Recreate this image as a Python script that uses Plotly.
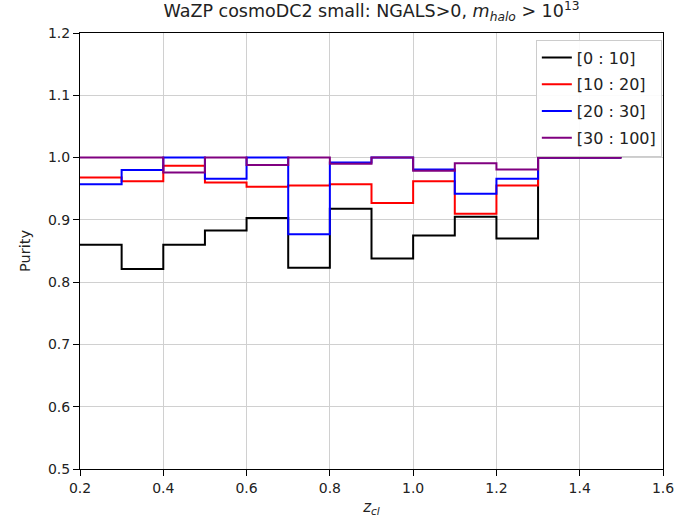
import plotly.graph_objects as go

edges = [0.2, 0.3, 0.4, 0.5, 0.6, 0.7, 0.8, 0.9, 1.0, 1.1, 1.2, 1.3, 1.4, 1.5]
labels = ["[0 : 10]", "[10 : 20]", "[20 : 30]", "[30 : 100]"]
colors = ["black", "red", "blue", "purple"]
# purity per redshift bin (0.2-0.3, ..., 1.4-1.5)
p_0_10 = [0.860, 0.821, 0.860, 0.883, 0.903, 0.823, 0.918, 0.838, 0.875, 0.905, 0.870, 1.0, 1.0]
p_10_20 = [0.968, 0.962, 0.987, 0.960, 0.953, 0.955, 0.957, 0.927, 0.962, 0.910, 0.955, 1.0, 1.0]
p_20_30 = [0.957, 0.980, 1.0, 0.966, 1.0, 0.877, 0.992, 1.0, 0.981, 0.942, 0.966, 1.0, 1.0]
p_30_100 = [1.0, 1.0, 0.976, 1.0, 0.988, 1.0, 0.990, 1.0, 0.979, 0.991, 0.981, 1.0, 1.0]
series = [p_0_10, p_10_20, p_20_30, p_30_100]

fig = go.Figure()
for i, (lab, col, vals) in enumerate(zip(labels, colors, series)):
    fig.add_trace(go.Scatter(
        x=edges, y=vals + [vals[-1]], mode="lines", name=lab,
        line=dict(color=col, width=2, shape="hv"), legendgroup=str(i),
    ))

axis_common = dict(
    showline=True, linecolor="black", linewidth=1, mirror=True,
    ticks="outside", ticklen=6, tickcolor="black",
    showgrid=True, gridcolor="#d0d0d0", gridwidth=1, zeroline=False,
    tickfont=dict(size=14, color="#222"), automargin=False,
)
fig.update_xaxes(range=[0.2, 1.6], tickvals=[0.2, 0.4, 0.6, 0.8, 1.0, 1.2, 1.4, 1.6],
                 tickformat=".1f", title=dict(text="<i>z<sub>cl</sub></i>", font=dict(size=15, color="#222"), standoff=6),
                 **axis_common)
fig.update_yaxes(range=[0.5, 1.2], dtick=0.1, tickformat=".1f",
                 title=dict(text="Purity", font=dict(size=14.5, color="#222"), standoff=13),
                 **axis_common)
fig.update_layout(
    width=679, height=522,
    margin=dict(l=80, r=16, t=33, b=53),
    plot_bgcolor="white", paper_bgcolor="white",
    font=dict(family="DejaVu Sans", size=14, color="#222"),
    title=dict(text="WaZP cosmoDC2 small: NGALS>0, <i>m<sub>halo</sub></i> > 10<sup>13</sup>",
               x=0.5, xref="paper", xanchor="center", y=0.99, yanchor="top", font=dict(size=17.5)),
    legend=dict(x=0.998, y=0.985, xanchor="right", yanchor="top", bgcolor="rgba(255,255,255,0.9)",
                bordercolor="#cccccc", borderwidth=1, font=dict(size=16), tracegroupgap=3),
    showlegend=True,
)
fig.write_html("out.html")
